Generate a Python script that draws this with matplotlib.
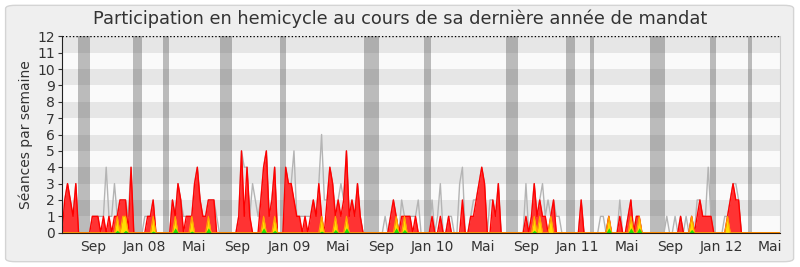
import matplotlib
matplotlib.use("Agg")
import matplotlib.pyplot as plt
from matplotlib.patches import FancyBboxPatch
import numpy as np

# weekly values, week 0 = start of the mandate (june 2007)
presence = [
    0, 2, 3, 2, 1, 3, 0, 0, 0, 0,
    0, 1, 1, 1, 0, 1, 0, 1, 0, 1,
    1, 2, 2, 2, 0, 4, 0, 0, 0, 0,
    0, 1, 1, 2, 0, 0, 0, 0, 0, 0,
    2, 1, 3, 2, 0, 1, 1, 1, 3, 4,
    2, 1, 1, 2, 2, 2, 0, 0, 0, 0,
    0, 0, 0, 0, 1, 5, 1, 4, 1, 0,
    0, 0, 2, 4, 5, 1, 2, 4, 0, 0,
    0, 4, 3, 3, 2, 1, 1, 0, 1, 0,
    1, 2, 1, 3, 1, 0, 2, 4, 3, 1,
    2, 1, 2, 5, 1, 2, 1, 3, 1, 0,
    0, 0, 0, 0, 0, 0, 0, 0, 0, 1,
    2, 1, 0, 1, 1, 1, 1, 0, 1, 0,
    0, 0, 0, 0, 1, 0, 0, 1, 0, 0,
    1, 0, 0, 0, 0, 2, 0, 0, 1, 1,
    2, 3, 4, 3, 0, 0, 2, 1, 3, 0,
    0, 0, 0, 0, 0, 0, 0, 0, 1, 0,
    1, 3, 1, 2, 1, 1, 0, 1, 2, 0,
    0, 0, 0, 0, 0, 0, 0, 0, 2, 0,
    0, 0, 0, 0, 0, 0, 0, 0, 1, 0,
    0, 0, 1, 0, 0, 1, 2, 0, 1, 1,
    0, 0, 0, 0, 0, 0, 0, 0, 0, 0,
    0, 0, 0, 0, 1, 0, 0, 0, 1, 0,
    1, 2, 1, 1, 1, 1, 0, 0, 0, 0,
    0, 1, 2, 3, 2, 2, 0, 0, 0, 0,
    0, 0, 0, 0, 0, 0, 0, 0, 0, 0, 0,
]

# reference line (all deputies)
mediane = [
    0, 2, 3, 2, 1, 3, 0, 0, 0, 0,
    0, 1, 1, 1, 1, 1, 4, 1, 1, 3,
    1, 2, 2, 2, 1, 4, 0, 0, 0, 0,
    1, 1, 1, 2, 0, 0, 0, 0, 0, 0,
    2, 1, 3, 2, 1, 1, 1, 1, 3, 4,
    2, 1, 1, 2, 2, 2, 1, 0, 0, 0,
    0, 0, 0, 0, 1, 5, 4, 4, 1, 3,
    2, 1, 2, 4, 5, 1, 2, 4, 0, 0,
    0, 4, 3, 3, 5, 1, 1, 1, 1, 1,
    1, 2, 1, 3, 6, 2, 2, 4, 3, 1,
    2, 3, 2, 5, 1, 2, 1, 3, 1, 0,
    0, 0, 0, 0, 0, 0, 0, 1, 0, 1,
    2, 1, 0, 2, 1, 1, 1, 1, 1, 2,
    0, 0, 0, 0, 2, 0, 1, 3, 0, 0,
    1, 1, 0, 0, 3, 4, 0, 0, 1, 2,
    2, 3, 4, 3, 0, 2, 2, 1, 3, 0,
    0, 0, 0, 0, 0, 0, 0, 0, 3, 0,
    1, 3, 1, 2, 3, 1, 2, 1, 2, 1,
    1, 0, 0, 0, 0, 0, 0, 0, 2, 0,
    0, 0, 0, 0, 0, 1, 1, 0, 1, 0,
    0, 0, 2, 0, 0, 1, 2, 0, 1, 1,
    0, 0, 0, 0, 0, 0, 0, 0, 0, 1,
    0, 0, 1, 0, 1, 0, 1, 0, 1, 0,
    2, 2, 1, 1, 4, 1, 0, 0, 0, 0,
    1, 1, 2, 3, 3, 2, 0, 0, 0, 0,
    0, 0, 0, 0, 0, 0, 0, 0, 0, 0, 0,
]

# weeks with interventions (yellow) and questions (green)
interv_weeks = [20, 22, 23, 33, 41, 47, 53, 73, 77, 94, 99, 103, 121, 124,
                171, 173, 177, 198, 206, 209, 228, 241]
question_weeks = [20, 23, 33, 41, 47, 53, 73, 77, 94, 99, 103, 121, 124,
                  171, 198, 206, 209, 228]
question_vals = [0.15, 0.15, 0.1, 0.3, 0.1, 0.3, 0.3, 0.15, 0.1, 0.2, 0.3, 0.3, 0.2,
                 0.15, 0.3, 0.3, 0.3, 0.2]

# vacations (start week, end week)
vacances = [(5.9, 10.1), (25.8, 28.9), (36.5, 38.7), (57.2, 61.7), (78.9, 81.1),
            (109.3, 114.8), (131.1, 133.6), (160.8, 165.0), (182.5, 185.7),
            (191.1, 192.5), (212.9, 218.3), (234.6, 236.8), (248.5, 249.9)]

mois = ["Sep", "Jan 08", "Mai", "Sep", "Jan 09", "Mai", "Sep", "Jan 10", "Mai",
        "Sep", "Jan 11", "Mai", "Sep", "Jan 12", "Mai"]
mois_weeks = [11.2, 30.0, 47.7, 63.5, 82.2, 99.9, 115.7, 134.3, 152.4,
              168.2, 186.6, 204.6, 220.3, 238.6, 256.3]

weeks = np.arange(len(presence))
yellow = np.zeros(len(presence))
yellow[interv_weeks] = 1
green = np.zeros(len(presence))
green[question_weeks] = question_vals

fig = plt.figure(figsize=(8, 2.67), dpi=100, facecolor="white")
fig.patches.append(FancyBboxPatch((0.007, 0.02), 0.985, 0.96, boxstyle="round,pad=0,rounding_size=0.012",
                                  transform=fig.transFigure, facecolor="#efefef",
                                  edgecolor="#d4d4d4", linewidth=1, zorder=-10))
ax = fig.add_axes([0.0775, 0.1285, 0.8975, 0.7355])
ax.set_facecolor("#fafafa")

for y in range(1, 12, 2):
    ax.axhspan(y, y + 1, color="#e6e6e6", lw=0, zorder=0)
for a, b in vacances:
    ax.axvspan(a, b, color="#464646", alpha=0.35, lw=0, zorder=1)

ax.plot(weeks, mediane, color="#b4b4b4", lw=1, zorder=2)
ax.fill_between(weeks, presence, color="#ff3333", lw=0, zorder=3)
ax.plot(weeks, presence, color="#ff0000", lw=1, zorder=3)
ax.fill_between(weeks, yellow, color="#ffdd00", lw=0, zorder=4)
ax.plot(weeks, yellow, color="#ffa500", lw=0.8, zorder=4)
ax.fill_between(weeks, green, color="#22dd00", lw=0, zorder=5)

ax.axhline(12, color="black", ls=(0, (1, 1.5)), lw=1, zorder=6)

ax.set_xlim(0, 260)
ax.set_ylim(0, 12)
ax.set_yticks(range(0, 13))
ax.set_xticks(mois_weeks)
ax.set_xticklabels(mois)
ax.tick_params(axis="x", length=0, labelsize=10, colors="#333333", pad=5)
ax.tick_params(axis="y", length=3, labelsize=10, colors="#333333", pad=2)

ax.spines["top"].set_visible(False)
ax.spines["right"].set_color("#cccccc")
ax.spines["left"].set_color("#222222")
ax.spines["bottom"].set_color("#2a1a10")
for s in ax.spines.values():
    s.set_zorder(10)

ax.set_ylabel("Séances par semaine", fontsize=10, color="#333333", labelpad=3)
fig.text(0.5, 0.93, "Participation en hemicycle au cours de sa dernière année de mandat",
         ha="center", va="center", fontsize=12.8, color="#333333")

fig.savefig("out.png", dpi=100, facecolor=fig.get_facecolor())
